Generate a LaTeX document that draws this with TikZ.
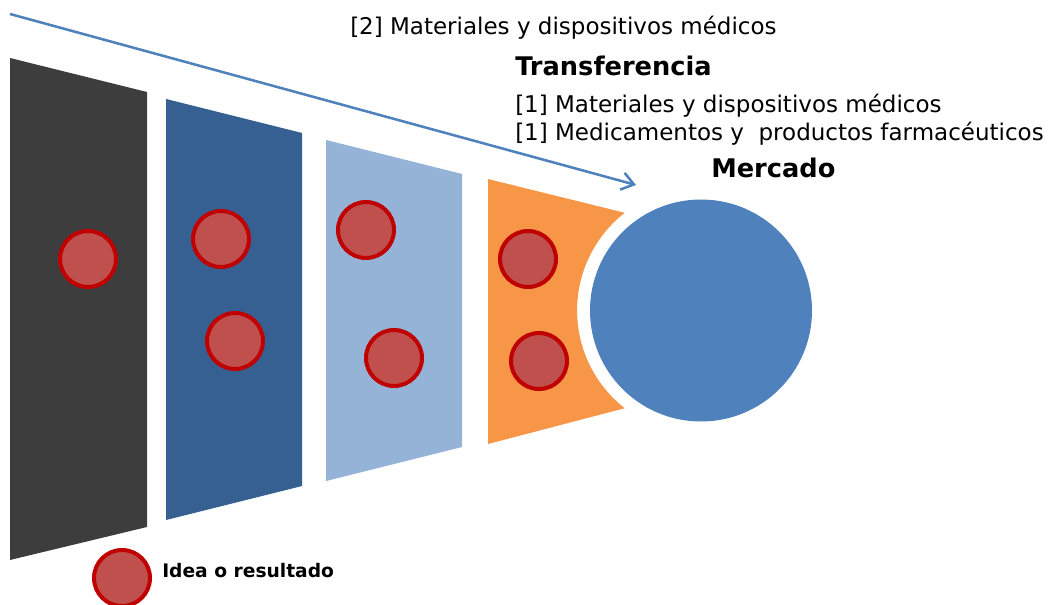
\documentclass[tikz,border=0pt]{standalone}
\usepackage{fontspec}
\setmainfont{DejaVu Sans}
\usetikzlibrary{arrows.meta}

\definecolor{stageA}{HTML}{3D3D3D}
\definecolor{stageB}{HTML}{376092}
\definecolor{stageC}{HTML}{95B3D7}
\definecolor{stageD}{HTML}{F79646}
\definecolor{marketblue}{HTML}{4F81BD}
\definecolor{ideafill}{HTML}{C0504D}
\definecolor{ideaborder}{HTML}{C00000}

\begin{document}
\begin{tikzpicture}[
  x=0.75pt,y=-0.75pt,
  idea/.style={circle,draw=ideaborder,fill=ideafill,line width=3pt,minimum size=42pt,inner sep=0pt},
  market/.style={circle,fill=marketblue,minimum size=166.5pt,inner sep=0pt},
  lbl/.style={anchor=base west,inner sep=0pt,font=\fontsize{17.25}{20}\selectfont},
  ttl/.style={anchor=base west,inner sep=0pt,font=\bfseries\fontsize{19.25}{22}\selectfont},
  flow/.style={-{Straight Barb[length=9pt,width=13pt]},line width=1.9pt,draw=marketblue}
]
  \useasboundingbox (0,0) rectangle (1048,605);

  % stages of the funnel
  \fill[stageA] (10,58) -- (147,92) -- (147,527) -- (10,560) -- cycle;
  \fill[stageB] (166,99) -- (302,133) -- (302,486) -- (166,520) -- cycle;
  \fill[stageC] (326,140) -- (462,174) -- (462,447) -- (326,481) -- cycle;
  \fill[stageD] (488,179) -- (624.7,212.8) arc[start angle=-128,end angle=-232,radius=124]
    -- (488,444) -- cycle;

  \node[market] (mercado) at (701,310.5) {};

  % ideas
  \node[idea] (i1) at (88,259) {};
  \node[idea] (i2) at (221,239) {};
  \node[idea] (i3) at (235,341) {};
  \node[idea] (i4) at (366,230) {};
  \node[idea] (i5) at (394,358) {};
  \node[idea] (i6) at (528,259) {};
  \node[idea] (i7) at (539,361) {};

  \coordinate (flowstart) at (10,14);
  \coordinate (flowend) at (636,185);
  \draw[flow] (flowstart) -- (flowend);

  \node[lbl] (dos) at (350,35) {[2] Materiales y dispositivos médicos};
  \node[ttl] (transf) at (515,76) {Transferencia};
  \node[lbl] (uno) at (515,113) {[1] Materiales y dispositivos médicos};
  \node[lbl] (unob) at (515,141) {[1] Medicamentos y\ \ productos farmacéuticos};
  \node[ttl] (merc) at (711,178) {Mercado};

  % legend
  \node[idea] (leg) at (122,578) {};
  \node[ttl,font=\bfseries\fontsize{14}{16}\selectfont] (legtxt) at (162,577) {Idea o resultado};
\end{tikzpicture}
\end{document}
